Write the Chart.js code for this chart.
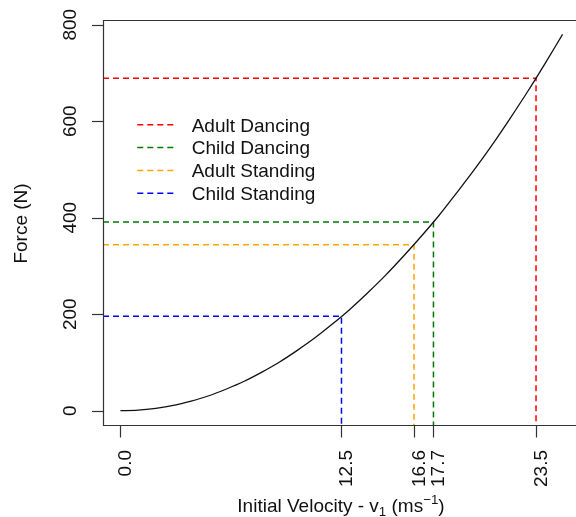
<!DOCTYPE html>
<html>
<head>
<meta charset="utf-8">
<script src="https://cdn.jsdelivr.net/npm/chart.js@4/dist/chart.umd.min.js"></script>
<style>
  html, body { margin: 0; padding: 0; background: #fff; overflow: hidden; }
  canvas { display: block; }
</style>
</head>
<body>
<canvas id="c" width="576" height="517"></canvas>
<script>
// ---- data ----
const velocities = [0,1,2,3,4,5,6,7,8,9,10,11,12,13,14,15,16,17,18,19,20,21,22,23,24,25];
const forces     = [0,1.2,5,11,20,31,45,61,80,101,125,151,180,211,245,281,320,361,404,451,499,550,604,660,719,780];
const scenarios        = ['Adult Dancing', 'Child Dancing', 'Adult Standing', 'Child Standing'];
const scenarioVelocity = [23.5, 17.7, 16.6, 12.5];
const scenarioForce    = [689, 391, 344, 196];
const scenarioColors   = ['#FF0000', '#007800', '#FFA500', '#0000FF'];
const xTicks = [0, 12.5, 16.6, 17.7, 23.5];
const xTickLabels = ['0.0', '12.5', '16.6', '17.7', '23.5'];
const yTicks = [0, 200, 400, 600, 800];

const FONT = '19px "Liberation Sans", Arial, sans-serif';
const SMALL = '13.3px "Liberation Sans", Arial, sans-serif';
const TXT = '#111';
const DASH = [6, 4];

const datasets = [{
  data: velocities.map((v, i) => ({x: v, y: forces[i]})),
  borderColor: '#111', borderWidth: 1.3, pointRadius: 0, tension: 0.3,
  cubicInterpolationMode: 'monotone', clip: 0
}];
scenarios.forEach((name, i) => {
  datasets.push({
    label: name,
    data: [{x: -0.985, y: scenarioForce[i]}, {x: scenarioVelocity[i], y: scenarioForce[i]}, {x: scenarioVelocity[i], y: -200}],
    borderColor: scenarioColors[i], borderWidth: 1.5, borderDash: DASH,
    pointRadius: 0, tension: 0, clip: 0
  });
});

const decor = {
  id: 'decor',
  afterDraw(chart) {
    const {ctx, chartArea: a, scales: {x, y}} = chart;
    ctx.save();
    // box
    ctx.strokeStyle = '#333';
    ctx.lineWidth = 1.2;
    ctx.setLineDash([]);
    ctx.beginPath();
    ctx.moveTo(a.right + 5, a.top - 0.5);
    ctx.lineTo(a.left + 0.5, a.top - 0.5);
    ctx.lineTo(a.left + 0.5, a.bottom - 0.5);
    ctx.lineTo(a.right + 5, a.bottom - 0.5);
    ctx.stroke();

    // y ticks + labels
    ctx.fillStyle = TXT;
    ctx.font = FONT;
    yTicks.forEach(t => {
      const py = Math.round(y.getPixelForValue(t)) + 0.5;
      ctx.beginPath();
      ctx.moveTo(a.left + 0.5, py);
      ctx.lineTo(a.left - 11, py);
      ctx.stroke();
      ctx.save();
      ctx.translate(75.5, y.getPixelForValue(t));
      ctx.rotate(-Math.PI / 2);
      ctx.textAlign = 'center';
      ctx.textBaseline = 'alphabetic';
      ctx.fillText(String(t), 0, 0);
      ctx.restore();
    });

    // x ticks + labels
    xTicks.forEach((t, i) => {
      const px = Math.round(x.getPixelForValue(t)) + 0.5;
      ctx.beginPath();
      ctx.moveTo(px, a.bottom - 0.5);
      ctx.lineTo(px, a.bottom + 11.5);
      ctx.stroke();
      ctx.save();
      ctx.translate(x.getPixelForValue(t) + 10.5, 450);
      ctx.rotate(-Math.PI / 2);
      ctx.textAlign = 'right';
      ctx.textBaseline = 'alphabetic';
      ctx.fillText(xTickLabels[i], 0, 0);
      ctx.restore();
    });

    // y title
    ctx.save();
    ctx.translate(27, (a.top + a.bottom) / 2);
    ctx.rotate(-Math.PI / 2);
    ctx.textAlign = 'center';
    ctx.textBaseline = 'alphabetic';
    ctx.fillText('Force (N)', 0, 0);
    ctx.restore();

    // x title with subscript / superscript
    const parts = [
      {t: 'Initial Velocity - v', f: FONT, dy: 0},
      {t: '1', f: SMALL, dy: 4},
      {t: ' (ms', f: FONT, dy: 0},
      {t: '\u22121', f: SMALL, dy: -8},
      {t: ')', f: FONT, dy: 0}
    ];
    let total = 0;
    parts.forEach(p => { ctx.font = p.f; p.w = ctx.measureText(p.t).width; total += p.w; });
    let cx = 341 - total / 2;
    ctx.textAlign = 'left';
    ctx.textBaseline = 'alphabetic';
    parts.forEach(p => { ctx.font = p.f; ctx.fillText(p.t, cx, 512 + p.dy); cx += p.w; });

    // legend
    ctx.font = FONT;
    scenarios.forEach((name, i) => {
      const ly = 124.7 + i * 22.87;
      ctx.strokeStyle = scenarioColors[i];
      ctx.lineWidth = 1.5;
      ctx.setLineDash(DASH);
      ctx.beginPath();
      ctx.moveTo(137.3, ly);
      ctx.lineTo(174, ly);
      ctx.stroke();
      ctx.setLineDash([]);
      ctx.fillStyle = TXT;
      ctx.fillText(name, 191.7, ly + 6.8);
    });
    ctx.restore();
  }
};

new Chart(document.getElementById('c'), {
  type: 'line',
  data: { datasets },
  options: {
    responsive: false,
    animation: false,
    events: [],
    layout: { padding: { left: 103, top: 21, right: 0, bottom: 91 } },
    plugins: { legend: { display: false }, tooltip: { enabled: false } },
    scales: {
      x: { type: 'linear', min: -0.985, max: 25.76, display: false },
      y: { type: 'linear', min: -31.7, max: 807.7, display: false }
    }
  },
  plugins: [decor]
});
</script>
</body>
</html>
